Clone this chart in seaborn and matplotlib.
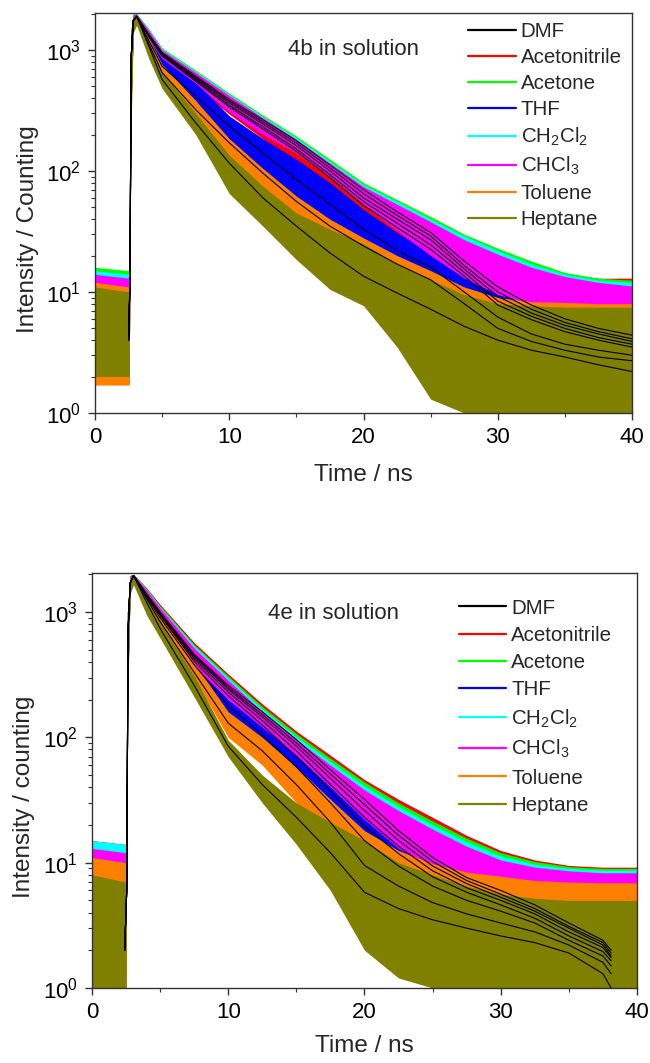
import matplotlib
matplotlib.use("Agg")
import matplotlib.pyplot as plt
import seaborn as sns
import pandas as pd
from matplotlib.lines import Line2D
from matplotlib.ticker import LogLocator, MultipleLocator, NullFormatter

# ---------------- data ----------------
SOLVENTS = ["DMF", "Acetonitrile", "Acetone", "THF", "CH2Cl2", "CHCl3", "Toluene", "Heptane"]
LEGEND_LABELS = ["DMF", "Acetonitrile", "Acetone", "THF", r"CH$_2$Cl$_2$", r"CHCl$_3$", "Toluene", "Heptane"]

# ---- panel 4b : measured decay envelopes (counts) ----
T_4B = [0, 2.55, 2.65, 2.85, 3.1, 4, 5, 7.5, 10, 12.5, 15, 17.5, 20, 22.5, 25, 27.5, 30, 32.5, 35, 37.5, 40]
B_DMF_HI = [13, 12, 1300, 1950, 1960, 1400, 960, 620, 390, 255, 165, 105, 66, 46, 33, 24, 18, 14.5, 13, 12, 11.5]
B_DMF_LO = [1.8, 1.8, 250, 1500, 1750, 1200, 820, 500, 300, 190, 120, 74, 44, 28, 18, 12, 8, 6.5, 5.5, 5, 5]
B_ACN_HI = [14, 13, 1300, 1950, 1960, 1400, 950, 610, 385, 250, 162, 103, 65, 45, 33, 25, 19, 15.5, 14, 13, 13]
B_ACN_LO = [1.8, 1.8, 250, 1500, 1750, 1190, 810, 495, 295, 185, 117, 72, 43, 27, 17.5, 11.5, 8, 6.5, 5.5, 5, 5]
B_ACE_HI = [16, 15, 1400, 2000, 2000, 1500, 1040, 680, 440, 290, 194, 125, 80, 58, 42, 30, 23, 18, 14.5, 13, 12.5]
B_ACE_LO = [1.8, 1.8, 300, 1600, 1800, 1280, 880, 560, 350, 235, 155, 97, 58, 38, 26, 16, 10, 7.5, 6, 5, 4.5]
B_THF_HI = [13, 12, 1300, 1950, 1950, 1350, 900, 540, 285, 185, 125, 80, 48, 31, 21, 15, 11.5, 10, 9.5, 9, 9]
B_THF_LO = [1.8, 1.8, 250, 1500, 1700, 1100, 700, 380, 160, 95, 55, 32, 19, 12, 8, 6, 4.5, 4, 3.5, 3, 3]
B_DCM_HI = [15, 14, 1400, 1980, 1990, 1480, 1020, 665, 430, 282, 188, 120, 77, 56, 40, 29, 22, 17, 14, 12.5, 12]
B_DCM_LO = [1.8, 1.8, 300, 1600, 1800, 1260, 860, 545, 340, 228, 150, 94, 56, 37, 25, 15.5, 10, 7.5, 6, 5, 4.5]
B_CHL_HI = [14, 13, 1400, 1960, 1980, 1450, 1000, 650, 420, 275, 182, 116, 74, 53, 38, 27, 20.5, 16, 13.4, 12, 11.2]
B_CHL_LO = [1.75, 1.75, 250, 1600, 1750, 1230, 850, 530, 305, 200, 140, 88, 52, 32, 20, 13, 9.5, 8, 7.5, 7, 7]
B_TOL_HI = [12, 11, 1200, 1900, 1900, 1250, 760, 380, 185, 105, 62, 40, 28, 20, 15, 11, 9, 8.3, 8.2, 8.0, 8.0]
B_TOL_LO = [1.7, 1.7, 200, 1500, 1650, 950, 560, 260, 120, 62, 35, 20, 11, 6, 3, 1.5, 1, 1, 1, 1, 1]
B_HEP_HI = [11, 10, 1100, 1900, 1900, 1150, 650, 300, 135, 75, 45, 33, 25, 17, 12.6, 9.5, 8, 7.7, 7.5, 7.5, 7.5]
B_HEP_LO = [2, 2, 150, 1400, 1600, 850, 480, 200, 65, 35, 18.5, 10.5, 7.7, 3.5, 1.3, 1, 1, 1, 1, 1, 1]

# ---- panel 4b : fitted curves ----
T_FIT_4B = [2.5, 2.6, 2.7, 2.85, 3.1, 4, 5, 7.5, 10, 12.5, 15, 17.5, 20, 22.5, 25, 27.5, 30, 32.5, 35, 37.5, 40]
F_B_DMF = [4, 12, 900, 1750, 1900, 1290, 890, 550, 338, 222, 145, 88, 52, 34, 22.5, 13.5, 7.8, 5.9, 4.7, 4.0, 3.5]
F_B_ACN = [4, 12, 900, 1750, 1900, 1300, 900, 565, 350, 232, 152, 93, 56, 37, 24.5, 14.5, 8.4, 6.3, 5.0, 4.2, 3.7]
F_B_ACE = [4, 12, 900, 1750, 1900, 1350, 950, 610, 390, 265, 178, 112, 70, 46, 31, 18, 11.0, 7.8, 6.0, 5.0, 4.4]
F_B_THF = [4, 12, 900, 1750, 1900, 1200, 733, 414, 234, 141, 85, 53, 33, 22, 16, 10, 6.2, 4.5, 3.7, 3.3, 3.0]
F_B_DCM = [4, 12, 900, 1750, 1900, 1330, 930, 595, 378, 255, 170, 106, 65, 43, 29, 16.5, 10.0, 7.2, 5.6, 4.7, 4.1]
F_B_CHL = [4, 12, 900, 1750, 1900, 1310, 915, 580, 365, 245, 162, 100, 60, 40, 27, 15.5, 9.2, 6.7, 5.3, 4.5, 3.9]
F_B_TOL = [4, 12, 900, 1750, 1900, 1130, 650, 321, 171, 96, 56, 35, 24, 17, 12.6, 8.0, 5.0, 3.9, 3.3, 2.9, 2.7]
F_B_HEP = [4, 12, 900, 1750, 1900, 1080, 569, 250, 116, 60, 35, 21, 13.5, 9.8, 7.2, 5.2, 4.0, 3.3, 2.9, 2.5, 2.2]

# ---- panel 4e : measured decay envelopes (counts) ----
T_4E = [0, 2.5, 2.6, 2.8, 3.05, 4, 5, 7.5, 10, 12.5, 15, 17.5, 20, 22.5, 25, 27.5, 30, 32.5, 35, 37.5, 40]
E_DMF_HI = [13, 13, 1000, 1950, 2000, 1550, 1130, 560, 315, 180, 110, 70, 45, 31, 22, 16, 12.3, 10.3, 9.4, 9.0, 9.0]
E_DMF_LO = [1, 1, 200, 1500, 1800, 1250, 900, 420, 220, 140, 85, 48, 27, 16, 11, 8, 6.5, 5.8, 5.3, 5, 5]
E_ACN_HI = [15, 14, 1000, 1950, 2000, 1560, 1150, 570, 320, 185, 112, 72, 46, 32, 23, 16.5, 12.5, 10.5, 9.5, 9.2, 9.2]
E_ACN_LO = [1, 1, 200, 1500, 1800, 1250, 900, 420, 220, 140, 85, 48, 27, 16, 11, 8, 6.5, 5.8, 5.3, 5, 5]
E_ACE_HI = [14, 13, 1000, 1950, 2000, 1540, 1120, 550, 308, 176, 107, 68, 44, 30, 21.5, 15.7, 12, 10.2, 9.3, 9.0, 9.0]
E_ACE_LO = [1, 1, 200, 1500, 1800, 1240, 890, 410, 212, 135, 80, 45, 25, 15, 10.5, 7.8, 6.4, 5.7, 5.2, 5, 5]
E_THF_HI = [12, 11, 1000, 1950, 2000, 1450, 1000, 430, 200, 125, 75, 42, 24, 15, 10.5, 8.8, 7.9, 7.4, 7.1, 7, 7]
E_THF_LO = [1, 1, 200, 1500, 1750, 1100, 760, 330, 140, 85, 48, 24, 12, 7, 5.5, 4.5, 4.2, 4, 4, 4, 4]
E_DCM_HI = [15, 14, 1000, 1950, 2000, 1520, 1100, 535, 298, 168, 101, 64, 41, 28, 20, 14.7, 11.3, 9.7, 9.0, 8.7, 8.7]
E_DCM_LO = [1, 1, 200, 1500, 1800, 1230, 880, 400, 205, 128, 76, 42, 23, 14, 10, 7.6, 6.4, 5.7, 5.2, 5, 5]
E_CHL_HI = [13, 12, 1000, 1950, 2000, 1500, 1080, 515, 285, 160, 96, 60, 38, 26, 18.5, 13.5, 10.5, 9.2, 8.6, 8.3, 8.3]
E_CHL_LO = [1, 1, 200, 1500, 1800, 1200, 860, 370, 200, 120, 72, 40, 22, 13, 9.2, 7.6, 7, 6.6, 6.4, 6.3, 6.3]
E_TOL_HI = [11, 10, 900, 1900, 1950, 1350, 950, 390, 160, 100, 58, 32, 18, 12.5, 9.8, 8.4, 7.8, 7.2, 7.0, 6.9, 6.9]
E_TOL_LO = [1, 1, 180, 1450, 1700, 1050, 720, 300, 100, 60, 30, 14, 6, 3, 2.4, 2, 1.8, 1.7, 1.6, 1.5, 1.5]
E_HEP_HI = [8, 7, 850, 1900, 1950, 1250, 830, 310, 95, 50, 30, 21, 15, 10, 8, 6.5, 5.6, 5.2, 5.0, 5.0, 5.0]
E_HEP_LO = [1, 1, 150, 1400, 1650, 950, 620, 210, 70, 30, 14, 6, 2, 1.2, 1, 1, 1, 1, 1, 1, 1]

# ---- panel 4e : fitted curves ----
T_FIT_4E = [2.4, 2.55, 2.65, 2.8, 3.05, 4, 5, 7.5, 10, 12.5, 15, 17.5, 20, 22.5, 25, 27.5, 30, 32.5, 35, 37.5, 38.1]
F_E_DMF = [2, 6, 700, 1700, 1950, 1400, 1000, 460, 260, 160, 96, 55, 32, 18, 11, 7.6, 6.0, 4.6, 3.3, 2.4, 2.0]
F_E_ACN = [2, 6, 700, 1700, 1950, 1390, 990, 450, 250, 152, 90, 51, 29, 16.5, 10.2, 7.2, 5.6, 4.3, 3.1, 2.3, 1.9]
F_E_ACE = [2, 6, 700, 1700, 1950, 1380, 975, 440, 242, 145, 85, 47, 26, 15, 9.4, 6.8, 5.3, 4.1, 3.0, 2.2, 1.8]
F_E_THF = [2, 6, 700, 1700, 1950, 1320, 900, 380, 180, 104, 58, 30, 15, 9.4, 6.5, 5.0, 4.1, 3.3, 2.4, 1.8, 1.5]
F_E_DCM = [2, 6, 700, 1700, 1950, 1370, 960, 425, 230, 136, 78, 42, 23, 13.5, 8.6, 6.3, 5.0, 3.9, 2.8, 2.1, 1.75]
F_E_CHL = [2, 6, 700, 1700, 1950, 1350, 940, 405, 215, 125, 70, 37, 19.5, 11.8, 7.7, 5.8, 4.6, 3.6, 2.6, 1.95, 1.65]
F_E_TOL = [2, 6, 700, 1700, 1950, 1280, 840, 330, 130, 78, 42, 21, 9.5, 6.5, 4.8, 3.9, 3.3, 2.8, 2.2, 1.6, 1.3]
F_E_HEP = [2, 6, 700, 1700, 1950, 1200, 740, 260, 85, 42, 23, 12, 5.8, 4.3, 3.5, 3.0, 2.6, 2.3, 1.9, 1.3, 1.0]

# ---------------- styling ----------------
COLORS = ["#000000", "#FF0000", "#00FF00", "#0000FF", "#00FFFF", "#FF00FF", "#FF8000", "#808000"]

sns.set_theme(style="ticks")
plt.rcParams["font.family"] = ["Liberation Sans", "DejaVu Sans"]
plt.rcParams["mathtext.default"] = "regular"
plt.rcParams["mathtext.fontset"] = "custom"
plt.rcParams["mathtext.rm"] = "Liberation Sans"
plt.rcParams["mathtext.it"] = "Liberation Sans"

fig = plt.figure(figsize=(6.5, 10.63), dpi=100)
ax_b = fig.add_axes([0.1462, 0.6115, 0.8262, 0.3763])
ax_e = fig.add_axes([0.1415, 0.0706, 0.8385, 0.3904])

panels = [
    dict(ax=ax_b, t=T_4B, tfit=T_FIT_4B,
         hi=[B_DMF_HI, B_ACN_HI, B_ACE_HI, B_THF_HI, B_DCM_HI, B_CHL_HI, B_TOL_HI, B_HEP_HI],
         lo=[B_DMF_LO, B_ACN_LO, B_ACE_LO, B_THF_LO, B_DCM_LO, B_CHL_LO, B_TOL_LO, B_HEP_LO],
         fit=[F_B_DMF, F_B_ACN, F_B_ACE, F_B_THF, F_B_DCM, F_B_CHL, F_B_TOL, F_B_HEP],
         ytop=2023, title="4b in solution", tpos=(14.4, 1000), ylabel="Intensity / Counting",
         leg=(0.695, 0.978), lspace=0.34, xl=-0.128, yl=(-0.104, 0.46)),
    dict(ax=ax_e, t=T_4E, tfit=T_FIT_4E,
         hi=[E_DMF_HI, E_ACN_HI, E_ACE_HI, E_THF_HI, E_DCM_HI, E_CHL_HI, E_TOL_HI, E_HEP_HI],
         lo=[E_DMF_LO, E_ACN_LO, E_ACE_LO, E_THF_LO, E_DCM_LO, E_CHL_LO, E_TOL_LO, E_HEP_LO],
         fit=[F_E_DMF, F_E_ACN, F_E_ACE, F_E_THF, F_E_DCM, F_E_CHL, F_E_TOL, F_E_HEP],
         ytop=2051, title="4e in solution", tpos=(12.9, 965), ylabel="Intensity / counting",
         leg=(0.673, 0.938), lspace=0.40, xl=-0.113, yl=(-0.105, 0.46)),
]

for p in panels:
    ax = p["ax"]
    for name, hi, lo, c in zip(SOLVENTS, p["hi"], p["lo"], COLORS):
        ax.fill_between(p["t"], lo, hi, color=c, lw=0, zorder=2)
    rows = []
    for name, vals in zip(SOLVENTS, p["fit"]):
        for tt, vv in zip(p["tfit"], vals):
            rows.append((name, tt, vv))
    df = pd.DataFrame(rows, columns=["solvent", "time", "counts"])
    sns.lineplot(data=df, x="time", y="counts", units="solvent", estimator=None,
                 color="black", lw=0.8, ax=ax, legend=False, zorder=3)

    ax.set_yscale("log")
    ax.set_xlim(0, 40)
    ax.set_ylim(1, p["ytop"])
    ax.xaxis.set_major_locator(MultipleLocator(10))
    ax.xaxis.set_minor_locator(MultipleLocator(5))
    ax.yaxis.set_major_locator(LogLocator(base=10, numticks=10))
    ax.yaxis.set_minor_locator(LogLocator(base=10, subs=range(2, 10), numticks=10))
    ax.yaxis.set_minor_formatter(NullFormatter())
    ax.tick_params(which="major", direction="out", length=5, width=1, labelsize=16, pad=5,
                   color="#333333", labelcolor="black")
    ax.tick_params(which="minor", direction="out", length=3, width=0.8, color="#333333")
    ax.tick_params(top=False, right=False, which="both")
    for s in ax.spines.values():
        s.set_visible(True)
        s.set_linewidth(1.0)
        s.set_color("#333333")

    ax.set_xlabel("Time / ns", fontsize=17.5)
    ax.set_ylabel(p["ylabel"], fontsize=17.5)
    ax.xaxis.set_label_coords(0.5, p["xl"])
    ax.yaxis.set_label_coords(*p["yl"])

    ax.text(p["tpos"][0], p["tpos"][1], p["title"], fontsize=16, va="center", ha="left", zorder=5)

    handles = [Line2D([0], [0], color=c, lw=1.6) for c in COLORS]
    ax.legend(handles, LEGEND_LABELS, loc="upper left", bbox_to_anchor=p["leg"],
              frameon=False, fontsize=14.8, handlelength=2.3, handletextpad=0.25,
              labelspacing=p["lspace"], borderpad=0, borderaxespad=0)

fig.savefig("out.png", dpi=100)
